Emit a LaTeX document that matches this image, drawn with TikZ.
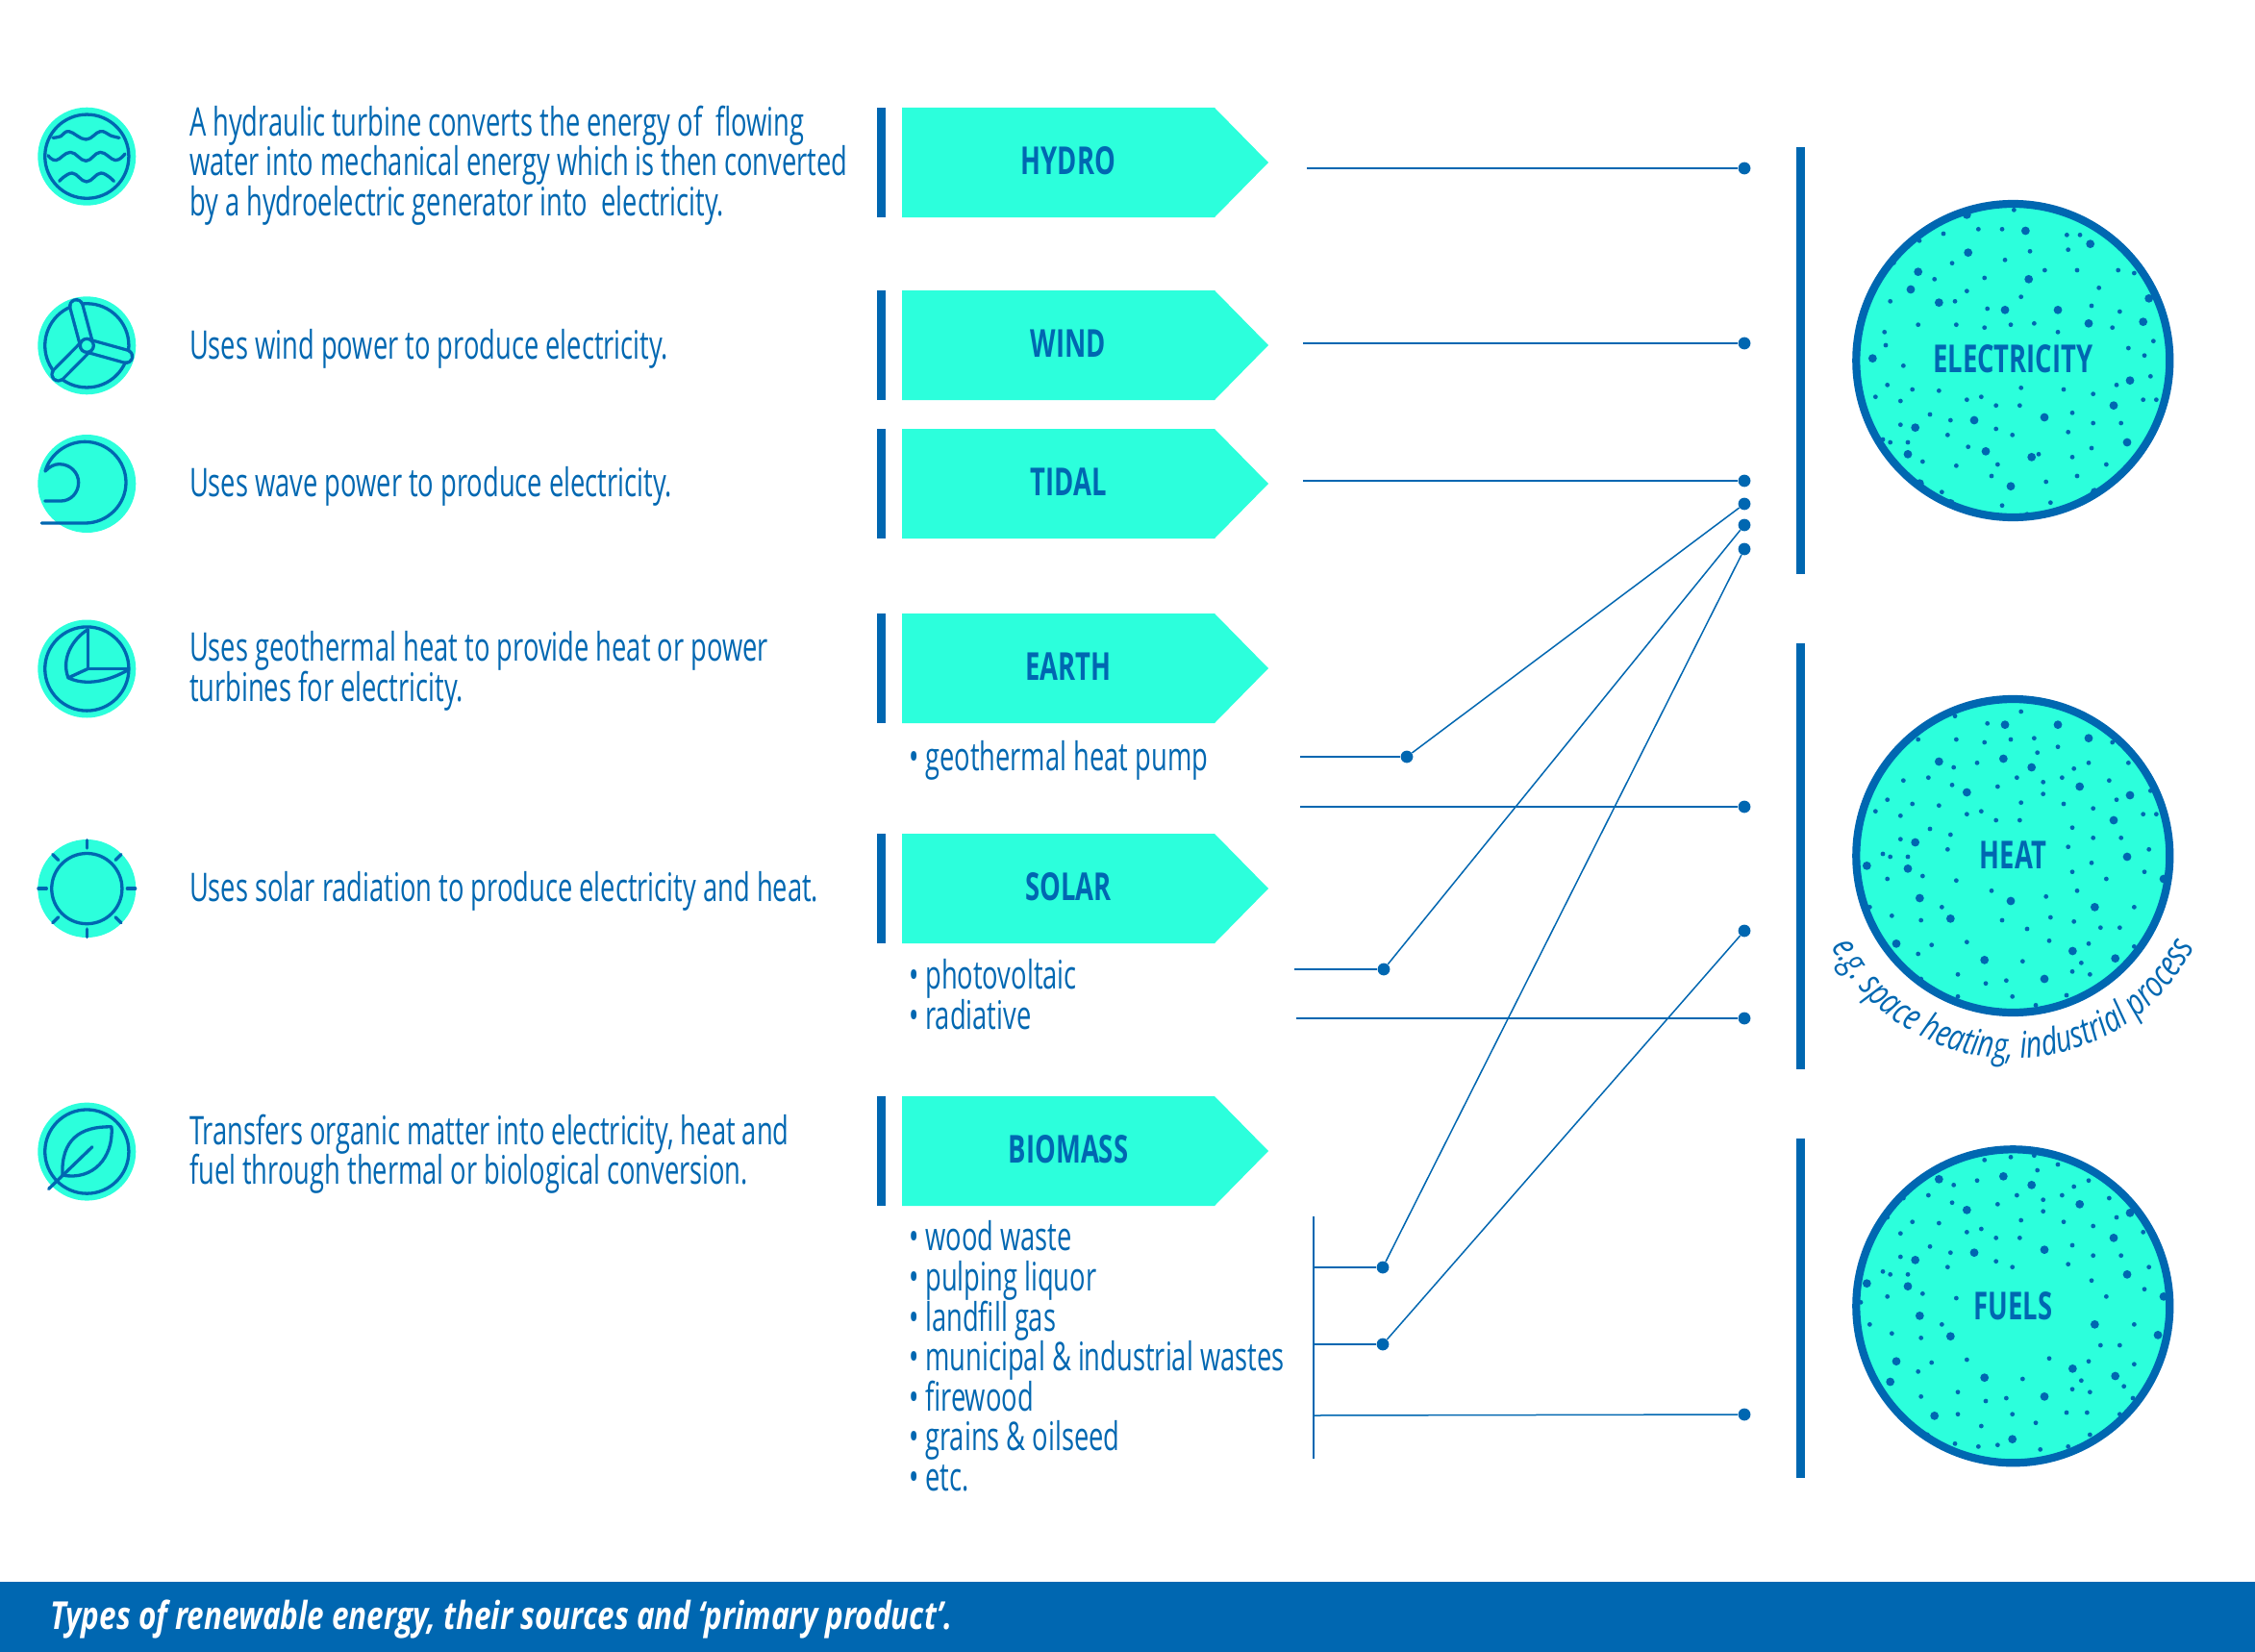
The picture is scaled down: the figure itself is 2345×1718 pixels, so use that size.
\documentclass[tikz,border=0pt]{standalone}
\usepackage{fontspec}
\usetikzlibrary{decorations.text}
\setmainfont[FakeStretch=0.666]{Open Sans}
\newfontfamily\headfont[FakeStretch=0.685]{Open Sans}
\newfontfamily\capfont[FakeStretch=0.786]{Open Sans}
\newfontfamily\curvefont[FakeStretch=0.76]{Open Sans}
\definecolor{tealc}{HTML}{2CFFDC}
\definecolor{bluec}{HTML}{0067B1}
\tikzset{
  body/.style={anchor=base west,inner sep=0pt,outer sep=0pt,text=bluec,font=\fontsize{20.5}{21}\selectfont,align=left},
  head/.style={inner sep=0pt,text=bluec,font=\headfont\bfseries\fontsize{20}{21}\selectfont},
  conn/.style={draw=bluec,line width=0.75pt},
  dot/.style={circle,fill=bluec,inner sep=0pt,minimum size=6.4pt},
  iconbg/.style={circle,fill=tealc,inner sep=0pt,minimum size=51pt},
  iconline/.style={draw=bluec,line width=1.65pt,line cap=round,line join=round},
  product/.style={circle,fill=tealc,draw=bluec,line width=4.1pt,inner sep=0pt,minimum size=163pt},
  pbar/.style={fill=bluec}
}
\newcommand{\srcbox}[3]{%
  \fill[pbar] (912,#1) rectangle (921,#1+114);
  \fill[tealc] (938,#1) -- (1263,#1) -- (1319,#1+57) -- (1263,#1+114) -- (938,#1+114) -- cycle;
  \node[head] (#2) at (1111,#1+55) {#3};
}
\newcommand{\smalldots}[1]{\foreach \p in {#1} \fill[bluec] \p circle[radius=1.2pt];}
\newcommand{\bigdots}[1]{\foreach \p in {#1} \fill[bluec] \p circle[radius=2.2pt];}
\begin{document}
\begin{tikzpicture}[x=0.5pt,y=-0.5pt]
\useasboundingbox (0,0) rectangle (2345,1718);
% banner
\fill[bluec] (0,1645) rectangle (2345,1718);
\node[anchor=base west,inner sep=0pt,text=white,font=\capfont\bfseries\itshape\fontsize{20}{22}\selectfont] (cap) at (52,1694) {Types of renewable energy, their sources and ‘primary product’.};
% source boxes
\srcbox{112}{hydro}{HYDRO}
\srcbox{302}{wind}{WIND}
\srcbox{446}{tidal}{TIDAL}
\srcbox{638}{earth}{EARTH}
\srcbox{867}{solar}{SOLAR}
\srcbox{1140}{biomass}{BIOMASS}
% descriptions
\node[body] (t1a) at (197,141) {A hydraulic turbine converts the energy of\ \ flowing};
\node[body] (t1b) at (197,183) {water into mechanical energy which is then converted};
\node[body] (t1c) at (197,224) {by a hydroelectric generator into\ \ electricity.};
\node[body] (t2) at (197,373) {Uses wind power to produce electricity.};
\node[body] (t3) at (197,516) {Uses wave power to produce electricity.};
\node[body] (t4a) at (197,687) {Uses geothermal heat to provide heat or power};
\node[body] (t4b) at (197,729) {turbines for electricity.};
\node[body] (t5) at (197,937) {Uses solar radiation to produce electricity and heat.};
\node[body] (t6a) at (197,1190) {Transfers organic matter into electricity, heat and};
\node[body] (t6b) at (197,1231) {fuel through thermal or biological conversion.};
% lists
\node[body] (l1) at (945,801) {• geothermal heat pump};
\node[body] (l2) at (945,1028) {• photovoltaic};
\node[body] (l3) at (945,1070) {• radiative};
\node[body] (b1) at (945,1300) {• wood waste};
\node[body] (b2) at (945,1342) {• pulping liquor};
\node[body] (b3) at (945,1384) {• landfill gas};
\node[body] (b4) at (945,1425) {• municipal \& industrial wastes};
\node[body] (b5) at (945,1467) {• firewood};
\node[body] (b6) at (945,1508) {• grains \& oilseed};
\node[body] (b7) at (945,1550) {• etc.};
% product bars
\fill[pbar] (1868.3,153) rectangle (1876.7,597);
\fill[pbar] (1868.3,669) rectangle (1876.7,1112);
\fill[pbar] (1868.3,1184) rectangle (1876.7,1537);
% product circles
\node[product] (elec) at (2093.3,375) {};
\node[product] (heat) at (2093.3,890) {};
\node[product] (fuels) at (2093.3,1358.3) {};
\begin{scope}[shift={(1850,130)},x=0.16667pt,y=-0.16667pt]
\smalldots{(733,265),(513,339),(622,325),(696,325),(898,343),(939,343),(438,361),(783,394),(902,389),(540,431),(705,421),(829,453),(930,453),(1058,453),(1108,462),(485,481),(641,477),(586,518),(998,508),(347,550),(549,550),(755,536),(650,573),(975,564),(1063,582),(434,623),(553,623),(641,632),(723,623),(796,619),(870,646),(1040,632),(329,646),(333,687),(1168,674),(1090,696),(1140,719),(388,751),(1159,784),(338,811),(416,825),(499,829),(755,820),(888,825),(1053,811),(980,839),(301,848),(379,861),(586,857),(631,848),(677,875),(751,875),(1136,857),(1177,857),(471,903),(535,921),(915,898),(379,935),(677,948),(980,930),(1067,930),(526,967),(728,967),(902,958),(324,981),(347,990),(402,990),(590,1004),(975,1008),(810,1027),(448,1050),(553,1063),(682,1059),(915,1036),(1021,1059),(663,1095),(930,1095),(833,1113),(508,1145),(696,1187),(847,1178),(774,1214),(358,430)}
\bigdots{(586,280),(769,330),(971,371),(590,398),(434,458),(779,481),(411,513),(499,554),(1154,541),(705,577),(870,577),(966,619),(1136,614),(292,728),(1095,797),(1044,875),(828,912),(609,921),(425,944),(1086,990),(402,1027),(645,1018),(788,1036),(723,1127),(439,1118),(985,1145),(535,1180)}
\end{scope}
\begin{scope}[shift={(1850,680)},x=0.16667pt,y=-0.16667pt]
\smalldots{(755,180),(549,194),(650,217),(553,267),(723,267),(796,263),(641,276),(434,267),(1040,276),(870,290),(806,308),(545,354),(618,340),(966,340),(1090,340),(920,358),(388,395),(466,386),(742,386),(883,386),(824,400),(1030,395),(540,409),(682,414),(824,437),(1159,427),(338,455),(1053,455),(416,468),(499,473),(755,464),(888,468),(980,482),(301,491),(379,505),(586,500),(631,491),(1136,500),(1177,500),(677,519),(751,519),(471,546),(915,542),(535,564),(379,578),(980,574),(1067,574),(526,610),(902,602),(1154,610),(324,624),(347,633),(402,633),(975,652),(1140,680),(448,693),(338,702),(553,707),(915,680),(1021,702),(663,739),(930,739),(833,757),(283,790),(508,790),(1108,790),(352,817),(443,831),(696,831),(847,822),(920,835),(774,858),(1003,854),(1063,854),(586,899),(843,895),(966,904),(476,908),(1108,913),(434,936),(760,959),(943,964),(915,991),(970,1000),(558,1000),(645,1028),(709,1019),(443,1014),(558,1069),(728,1069),(897,1065),(801,1096)}
\bigdots{(705,221),(870,221),(966,263),(499,336),(700,327),(788,354),(938,414),(586,432),(1095,441),(1044,519),(425,588),(1086,633),(274,661),(402,670),(1200,702),(439,762),(723,771),(985,790),(535,826),(366,904),(916,927),(1049,950),(641,955),(828,1014)}
\end{scope}
\begin{scope}[shift={(1850,1160)},x=0.16667pt,y=-0.16667pt]
\smalldots{(641,139),(723,130),(796,125),(870,153),(806,171),(545,217),(618,203),(966,203),(920,222),(388,258),(466,249),(742,249),(883,249),(824,263),(1030,258),(540,272),(682,277),(338,318),(1053,318),(824,299),(416,332),(499,336),(755,327),(888,332),(980,345),(379,368),(586,364),(631,354),(1136,364),(677,382),(751,382),(471,409),(915,405),(535,428),(379,441),(677,455),(980,437),(1067,437),(526,473),(728,473),(902,464),(1154,473),(324,487),(347,496),(402,496),(975,515),(1140,542),(448,556),(338,565),(553,570),(1021,565),(255,583),(283,652),(508,652),(1108,652),(352,680),(443,694),(1003,717),(1063,717),(586,762),(843,758),(966,767),(476,771),(1108,776),(434,799),(760,822),(943,827),(1076,845),(915,854),(970,863),(558,863),(645,891),(709,882),(443,877),(1104,882),(558,932),(728,932),(897,927),(961,927),(1063,932),(801,959),(631,969),(970,996),(549,1024),(622,1033),(682,1028),(815,1042),(902,1033),(463,996)}
\bigdots{(499,199),(700,190),(788,217),(938,277),(586,295),(1095,304),(1044,382),(609,428),(828,419),(425,451),(1086,496),(274,524),(402,533),(1200,565),(439,625),(985,652),(535,689),(1182,685),(366,767),(347,831),(916,790),(1049,813),(641,818),(828,877),(485,937),(728,1010)}
\end{scope}
\node[head] (elecl) at (2093.3,373) {ELECTRICITY};
\node[head] (heatl) at (2093.3,889) {HEAT};
\node[head] (fuelsl) at (2093.3,1358) {FUELS};
\path[decorate,decoration={text along path,text align=center,text={|\curvefont\itshape\fontsize{19}{20}\selectfont\color{bluec}|e.g. space heating, industrial process}}]
  (2093.3,890) ++(200:105.5pt) arc[start angle=200,end angle=340,radius=105.5pt];
% icons
\node[iconbg] (i1) at (90.3,162.7) {};
\node[iconbg] (i2) at (90.3,359.3) {};
\node[iconbg] (i3) at (90.3,503) {};
\node[iconbg] (i4) at (90.3,695.5) {};
\node[iconbg] (i5) at (90.3,924) {};
\node[iconbg] (i6) at (90.3,1197.6) {};
\begin{scope}[shift={(0,80)},x=0.16667pt,y=-0.16667pt]
\draw[iconline] (271,248) circle[radius=21.8pt];
\draw[iconline] plot[smooth,tension=0.7] coordinates {(165,190)(190,185)(215,170)(268,195)(313,170)(345,183)(372,190)};
\draw[iconline] plot[smooth,tension=0.7] coordinates {(150,245)(175,260)(220,235)(268,262)(313,235)(360,260)(390,240)};
\draw[iconline] plot[smooth,tension=0.7] coordinates {(185,325)(225,300)(270,327)(315,300)(355,325)};
\draw[iconline] (271,838) circle[radius=21.8pt];
\foreach \tip in {(238,715),(393,872),(182,928)} {
  \draw[bluec,line width=8.3pt,line cap=round] (271,838) -- \tip;
}
\foreach \tip in {(238,715),(393,872),(182,928)} {
  \draw[tealc,line width=5pt,line cap=round] (271,838) -- \tip;
}
\filldraw[fill=tealc,draw=bluec,line width=1.65pt] (271,838) circle[radius=3.5pt];
\draw[iconline] (130,1392) -- (265,1392) .. controls (335,1392) and (393,1335) .. (393,1265) .. controls (393,1195) and (335,1138) .. (265,1138) .. controls (205,1138) and (155,1180) .. (141,1230) .. controls (155,1215) and (170,1208) .. (185,1208) .. controls (220,1208) and (245,1235) .. (245,1265) .. controls (245,1298) and (220,1323) .. (190,1323) -- (140,1323);
\end{scope}
\begin{scope}[shift={(0,620)},x=0.16667pt,y=-0.20408pt]
\draw[iconline] (271,185) circle[radius=21.8pt];
\draw[iconline] (274,85) -- (274,185) -- (395,185);
\draw[iconline] (274,185) -- (213,208);
\draw[iconline] (274,85) .. controls (225,110) and (190,160) .. (213,208) .. controls (270,230) and (340,215) .. (395,190);
\draw[iconline] (271,745) circle[radius=18.3pt];
\foreach \a in {0,45,...,315} \draw[iconline] (271,745) ++(\a:21pt) -- ++(\a:4.2pt);
\draw[iconline] (271,1415) circle[radius=21.8pt];
\draw[iconline] (348,1352) .. controls (250,1350) and (190,1385) .. (195,1475) .. controls (290,1490) and (355,1430) .. (348,1352);
\draw[iconline] (152,1510) -- (288,1403);
\end{scope}
% connectors
\coordinate (s1) at (1359,175);
\coordinate (s2) at (1355,357);
\coordinate (s3) at (1355,500);
\coordinate (s4) at (1352,787);
\coordinate (s5) at (1352,839);
\coordinate (s6) at (1346,1008);
\coordinate (s7) at (1348,1059);
\coordinate (vt) at (1366,1265);
\coordinate (vb) at (1366,1517);
\coordinate (j1) at (1366,1318);
\coordinate (j2) at (1366,1398);
\coordinate (j3) at (1366,1472);
\node[dot] (e1) at (1814,175) {};
\node[dot] (e2) at (1814,357) {};
\node[dot] (e3) at (1814,500) {};
\node[dot] (e4) at (1814,524) {};
\node[dot] (e5) at (1814,546) {};
\node[dot] (e6) at (1814,571) {};
\node[dot] (e7) at (1814,839) {};
\node[dot] (e8) at (1814,968) {};
\node[dot] (e9) at (1814,1059) {};
\node[dot] (e10) at (1814,1471) {};
\node[dot] (m1) at (1463,787) {};
\node[dot] (m2) at (1439,1008) {};
\node[dot] (m3) at (1438,1318) {};
\node[dot] (m4) at (1438,1398) {};
\draw[conn] (s1) -- (e1);
\draw[conn] (s2) -- (e2);
\draw[conn] (s3) -- (e3);
\draw[conn] (s4) -- (m1);
\draw[conn] (m1) -- (e4);
\draw[conn] (s5) -- (e7);
\draw[conn] (s6) -- (m2);
\draw[conn] (m2) -- (e5);
\draw[conn] (s7) -- (e9);
\draw[conn] (vt) -- (vb);
\draw[conn] (j1) -- (m3);
\draw[conn] (m3) -- (e6);
\draw[conn] (j2) -- (m4);
\draw[conn] (m4) -- (e8);
\draw[conn] (j3) -- (e10);
\end{tikzpicture}
\end{document}
